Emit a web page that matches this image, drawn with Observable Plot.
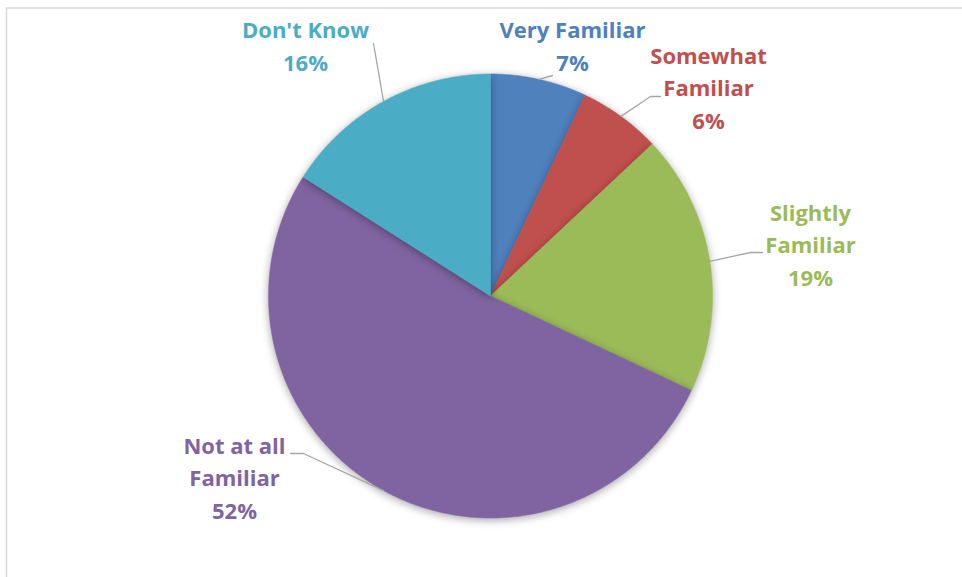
<!DOCTYPE html>
<html>
<head>
<meta charset="utf-8">
<script src="https://cdn.jsdelivr.net/npm/d3@7"></script>
<script src="https://cdn.jsdelivr.net/npm/@observablehq/plot@0.6"></script>
<style>
  html, body { margin: 0; padding: 0; background: #fff; }
  #chart { position: absolute; left: 0; top: 0; }
</style>
</head>
<body>
<div id="chart"></div>
<script>
// ---- data ----
const categories = ["Very Familiar", "Somewhat Familiar", "Slightly Familiar", "Not at all Familiar", "Don't Know"];
const values = [7, 6, 19, 52, 16];
const labelTexts = ["Very Familiar\n7%", "Somewhat\nFamiliar\n6%", "Slightly\nFamiliar\n19%", "Not at all\nFamiliar\n52%", "Don't Know\n16%"];
const colors = ["#4F81BD", "#C0504D", "#9BBB59", "#8064A2", "#4BACC6"];

// ---- layout (pixel units) ----
const W = 962, H = 577;
const cx = 490, cy = 295.5, R = 222;
const labelPos = {
  "Very Familiar": {x: 572, y: 43.5, leader: [[552, 75]]},
  "Somewhat Familiar": {x: 708, y: 85.5, leader: [[650, 96], [660, 96]]},
  "Slightly Familiar": {x: 810, y: 242.5, leader: [[750, 252], [762, 252]]},
  "Not at all Familiar": {x: 234, y: 475.5, leader: [[303, 453], [290, 453]]},
  "Don't Know": {x: 305, y: 43.5, leader: [[373, 43]]}
};

const arcs = d3.pie().sort(null).value(d => d.value)(
  categories.map((c, i) => ({cat: c, value: values[i], color: colors[i], label: labelTexts[i]}))
);

const pt = (a, r) => ({x: cx + r * Math.sin(a), y: cy - r * Math.cos(a)});

const sliceMarks = arcs.map(a => {
  const pts = [{x: cx, y: cy}];
  const n = Math.max(2, Math.ceil((a.endAngle - a.startAngle) / (Math.PI / 360)));
  for (let k = 0; k <= n; k++) {
    pts.push(pt(a.startAngle + (a.endAngle - a.startAngle) * k / n, R));
  }
  pts.push({x: cx, y: cy});
  return Plot.line(pts, {x: "x", y: "y", fill: a.data.color, stroke: a.data.color, strokeWidth: 0.5, curve: "linear", ariaDescription: "slice"});
});

const leaderMarks = arcs.map(a => {
  const mid = (a.startAngle + a.endAngle) / 2;
  const p0 = pt(mid, R);
  const pts = [p0, ...labelPos[a.data.cat].leader.map(([x, y]) => ({x, y}))];
  return Plot.line(pts, {x: "x", y: "y", stroke: "#a6a6a6", strokeWidth: 1.3});
});

const labelData = arcs.map(a => ({
  x: labelPos[a.data.cat].x, y: labelPos[a.data.cat].y, text: a.data.label, color: a.data.color
}));

const frame = [{x1: 6, x2: W, y: 7.5}];
const frameV = [{x: 6, y1: 7.5, y2: H}];

const chart = Plot.plot({
  width: W,
  height: H,
  margin: 0,
  x: {domain: [0, W], range: [0, W], axis: null},
  y: {domain: [0, H], range: [0, H], axis: null},
  style: {background: "#fff", overflow: "visible"},
  marks: [
    Plot.ruleY(frame, {x1: "x1", x2: "x2", y: "y", stroke: "#d9d9d9", strokeWidth: 1.5}),
    Plot.ruleX(frameV, {x: "x", y1: "y1", y2: "y2", stroke: "#d9d9d9", strokeWidth: 1.5}),
    ...sliceMarks,
    ...leaderMarks,
    Plot.text(labelData, {
      x: "x", y: "y", text: "text", fill: d => d.color,
      fontFamily: "Open Sans", fontWeight: "bold", fontSize: 22,
      lineHeight: 1.47, lineAnchor: "middle", textAnchor: "middle"
    })
  ]
});

document.getElementById("chart").appendChild(chart);
chart.querySelectorAll('g[aria-description="slice"]').forEach(g => {
  g.style.filter = "drop-shadow(0px 2px 4px rgba(0,0,0,0.35))";
});
</script>
</body>
</html>
